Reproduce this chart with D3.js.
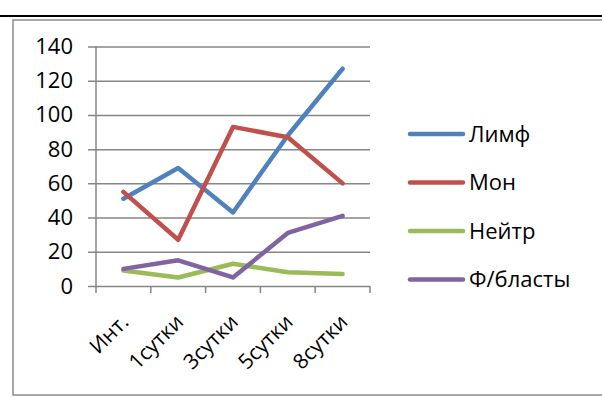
<!DOCTYPE html>
<html>
<head>
<meta charset="utf-8">
<script src="https://cdn.jsdelivr.net/npm/d3@7/dist/d3.min.js"></script>
<style>
  html, body { margin: 0; padding: 0; background: #fff; }
  svg { display: block; }
  text { font-family: "Open Sans", "DejaVu Sans", sans-serif; fill: #000; }
</style>
</head>
<body>
<svg id="chart" width="602" height="398"></svg>
<script>
// Categories (time points) and series values
const categories = ["Инт.", "1сутки", "3сутки", "5сутки", "8сутки"];
const seriesNames = ["Лимф", "Мон", "Нейтр", "Ф/бласты"];
const limf   = [51, 69, 43, 88, 127];
const mon    = [55, 27, 93, 87, 60];
const neitr  = [9, 5, 13, 8, 7];
const fblast = [10, 15, 5, 31, 41];
const yTicks = [0, 20, 40, 60, 80, 100, 120, 140];
const colors = ["#4F81BD", "#C0504D", "#9BBB59", "#8064A2"];

const series = [limf, mon, neitr, fblast].map((vals, i) => ({
  name: seriesNames[i], values: vals, color: colors[i]
}));

const svg = d3.select("#chart");

// Rule above the chart frame
svg.append("line")
  .attr("x1", 0).attr("x2", 602).attr("y1", 16).attr("y2", 16)
  .attr("stroke", "#000").attr("stroke-width", 2);

// Chart frame
svg.append("rect")
  .attr("x", 13).attr("y", 20).attr("width", 600).attr("height", 375)
  .attr("fill", "none").attr("stroke", "#8c8c8c").attr("stroke-width", 1.5);

const plot = { left: 96, right: 370, top: 46.5, bottom: 286 };

const x = d3.scaleBand().domain(categories).range([plot.left, plot.right]);
const y = d3.scaleLinear().domain([0, 140]).range([plot.bottom, plot.top]);

// Horizontal gridlines with left tick labels
const yAxis = d3.axisLeft(y).tickValues(yTicks).tickSize(-(plot.right - plot.left) - 8).tickPadding(15);
const gy = svg.append("g").attr("transform", `translate(${plot.left - 8},0)`).call(yAxis);
gy.select(".domain").remove();
gy.selectAll(".tick line")
  .attr("x1", 0).attr("x2", plot.right - plot.left + 8)
  .attr("stroke", "#868686").attr("stroke-width", 1.5);
gy.selectAll(".tick text").attr("font-size", 22).attr("fill", "#000")
  .attr("font-family", "\"Open Sans\", sans-serif");

// Vertical axis line
svg.append("line")
  .attr("x1", plot.left).attr("x2", plot.left)
  .attr("y1", plot.top).attr("y2", plot.bottom)
  .attr("stroke", "#868686").attr("stroke-width", 1.5);

// Category axis with tick marks at band edges
const edges = categories.map(c => x(c)).concat([plot.right]);
svg.append("g").selectAll("line").data(edges).join("line")
  .attr("x1", d => d).attr("x2", d => d)
  .attr("y1", plot.bottom).attr("y2", plot.bottom + 7)
  .attr("stroke", "#868686").attr("stroke-width", 1.5);

// Rotated category labels
svg.append("g").selectAll("text").data(categories).join("text")
  .attr("transform", d => `translate(${x(d) + x.bandwidth() / 2 - 4},${plot.bottom + 27}) rotate(-45)`)
  .attr("text-anchor", "end")
  .attr("dy", "0.7em")
  .attr("font-size", 21)
  .text(d => d);

// Series lines
const line = d3.line()
  .x((d, i) => x(categories[i]) + x.bandwidth() / 2)
  .y(d => y(d));

svg.append("g").selectAll("path").data(series).join("path")
  .attr("d", s => line(s.values))
  .attr("fill", "none")
  .attr("stroke", s => s.color)
  .attr("stroke-width", 4.5)
  .attr("stroke-linecap", "round")
  .attr("stroke-linejoin", "round");

// Legend
const legend = svg.append("g").selectAll("g").data(series).join("g")
  .attr("transform", (s, i) => `translate(410,${134 + i * 48.5})`);
legend.append("line")
  .attr("x1", 0).attr("x2", 53)
  .attr("stroke", s => s.color).attr("stroke-width", 4.5)
  .attr("stroke-linecap", "round");
legend.append("text")
  .attr("x", 59).attr("dy", "0.35em")
  .attr("font-size", 22)
  .text(s => s.name);
</script>
</body>
</html>
